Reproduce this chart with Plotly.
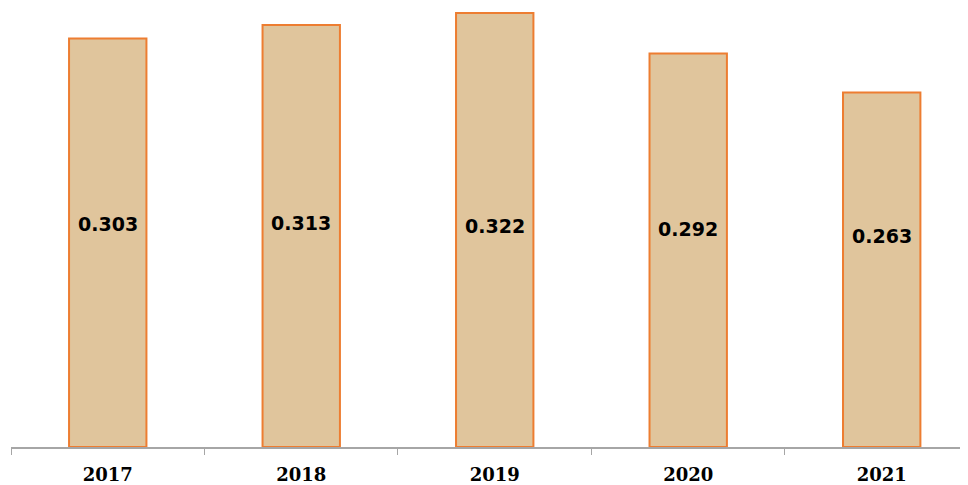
import plotly.graph_objects as go

years = ["2017", "2018", "2019", "2020", "2021"]
values = [0.303, 0.313, 0.322, 0.292, 0.263]
value_labels = ["0.303", "0.313", "0.322", "0.292", "0.263"]
# vertical placement of the value labels (data units)
label_y = [0.1658, 0.1662, 0.1640, 0.1621, 0.1562]

fig = go.Figure()
fig.add_trace(go.Bar(
    x=years, y=values,
    marker=dict(color="#e0c59c", line=dict(color="#ed7d31", width=2)),
    hoverinfo="x+y",
))

for i, (lab, ly) in enumerate(zip(value_labels, label_y)):
    fig.add_annotation(
        x=i, y=ly, text=lab, showarrow=False,
        xanchor="center", yanchor="middle",
        font=dict(family="DejaVu Sans", size=19, color="#000000", weight="bold"),
    )

fig.update_layout(
    width=960, height=477,
    margin=dict(l=3, r=0, t=0, b=36),
    paper_bgcolor="white", plot_bgcolor="white",
    bargap=0.6, showlegend=False,
    xaxis=dict(
        type="category", range=[-0.5, 4.446],
        showline=True, linecolor="#a6a6a6", linewidth=2,
        ticks="outside", tickson="boundaries", ticklen=6, tickcolor="#a6a6a6", tickwidth=1,
        showgrid=False, zeroline=False, ticklabelstandoff=10,
        tickfont=dict(family="DejaVu Serif", size=18, color="#000000", weight="bold"),
    ),
    yaxis=dict(visible=False, range=[0, 0.3257], showgrid=False, zeroline=False),
)

fig.write_html("out.html")
